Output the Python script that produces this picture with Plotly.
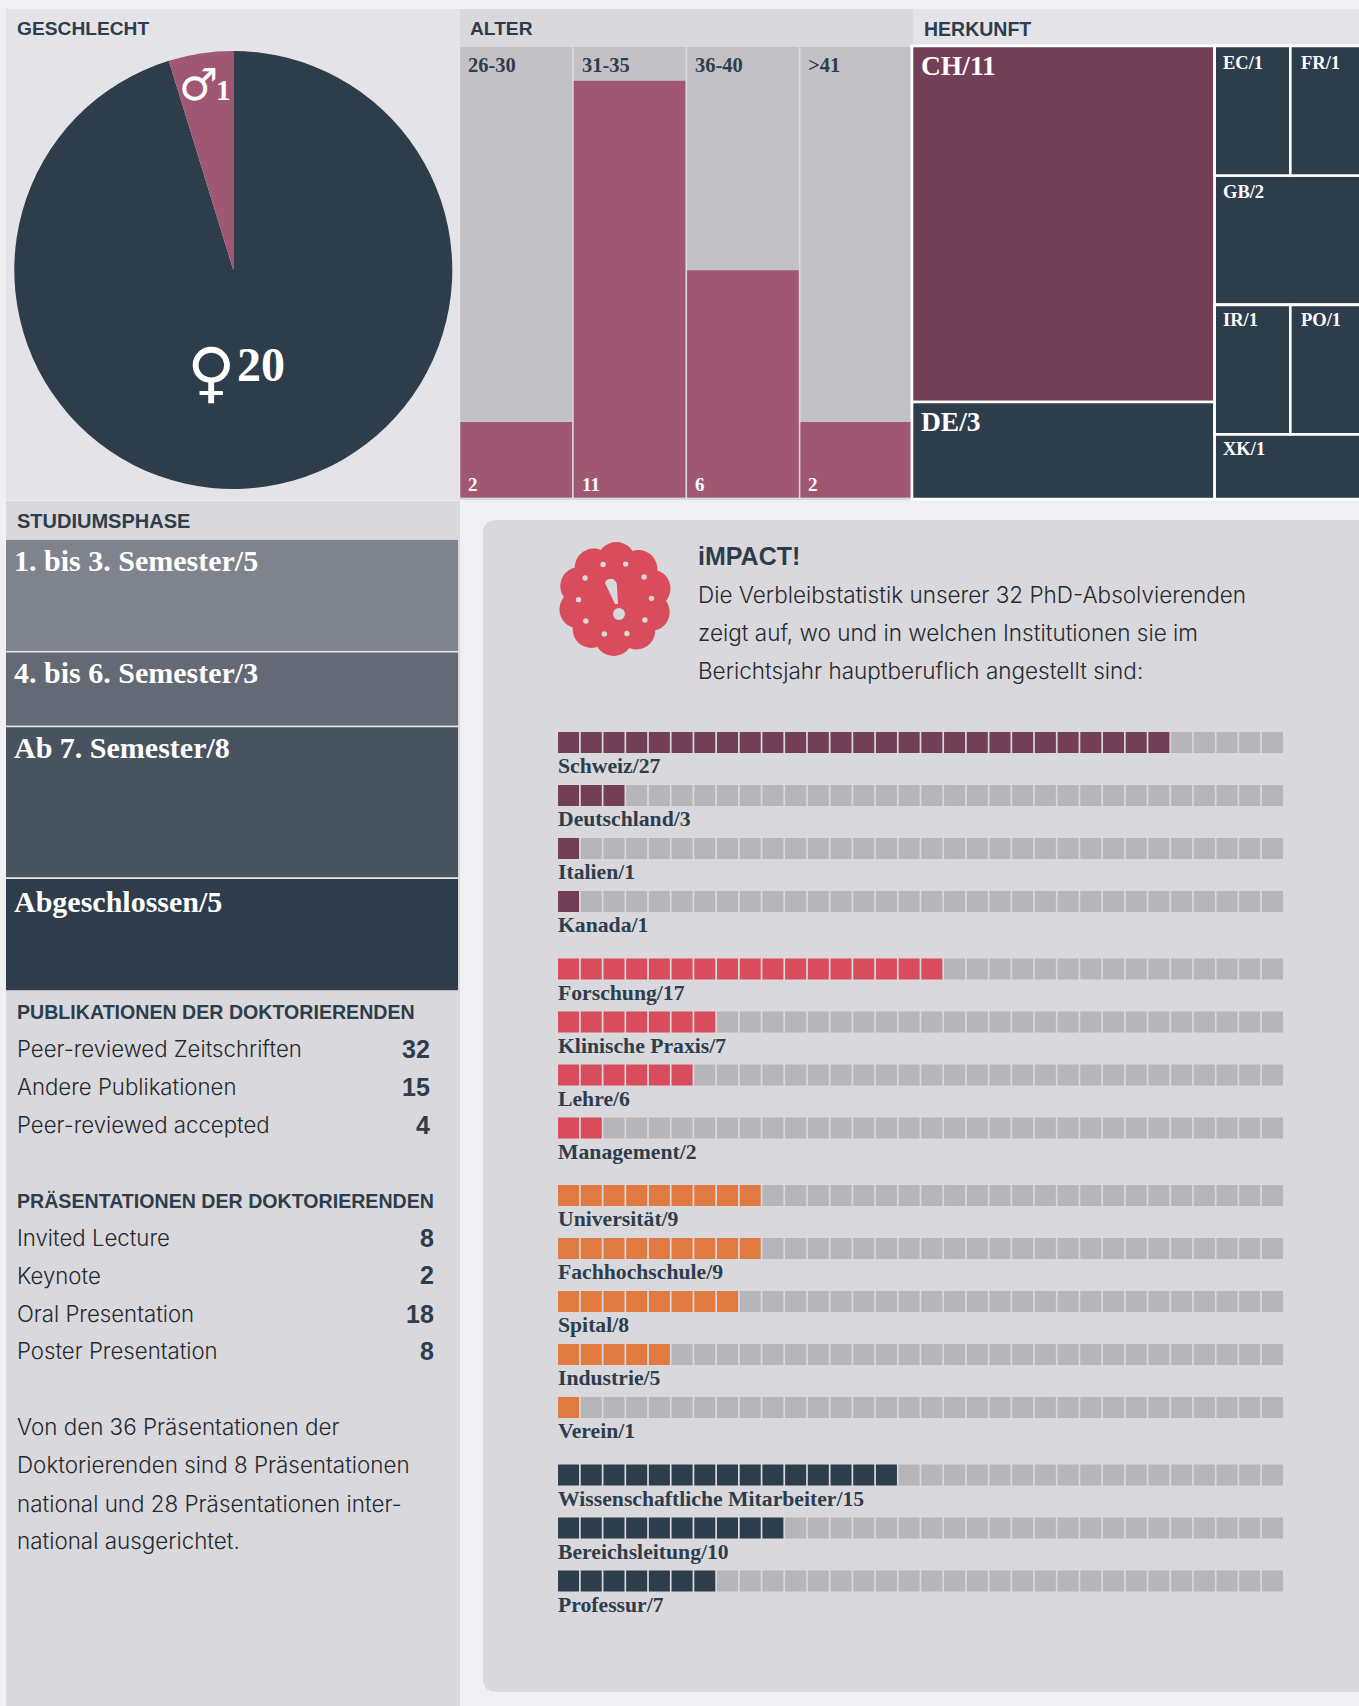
import math
import plotly.graph_objects as go

# the Herkunft block runs a few pixels past the 1359 wide window in the original
W, H = 1366, 1706

# --- data ---
gender_labels = ["weiblich", "männlich"]
gender_values = [20, 1]

age_labels = ["26-30", "31-35", "36-40", ">41"]
age_values = [2, 11, 6, 2]
age_scale_max = 11.9

origin_ids = ["L", "CH", "DE", "R", "R1", "EC", "FR", "GB", "R3", "IR", "PO", "XK"]
origin_parents = ["", "L", "L", "", "R", "R1", "R1", "R", "R", "R3", "R3", "R"]
origin_values = [14, 11, 3, 7, 2, 1, 1, 2, 2, 1, 1, 1]

phase_labels = ["1. bis 3. Semester/5", "4. bis 6. Semester/3", "Ab 7. Semester/8", "Abgeschlossen/5"]
# drawn heights in the original do not follow the printed numbers
phase_sizes = [5.2, 3.45, 7.0, 5.2]
phase_colors = ["#7f838e", "#636975", "#47535f", "#2e3c4b"]

pub_labels = ["Peer-reviewed Zeitschriften", "Andere Publikationen", "Peer-reviewed accepted"]
pub_values = [32, 15, 4]
pres_labels = ["Invited Lecture", "Keynote", "Oral Presentation", "Poster Presentation"]
pres_values = [8, 2, 18, 8]

impact_total = 32
place_labels = ["Schweiz", "Deutschland", "Italien", "Kanada"]
place_values = [27, 3, 1, 1]
sector_labels = ["Forschung", "Klinische Praxis", "Lehre", "Management"]
sector_values = [17, 7, 6, 2]
inst_labels = ["Universität", "Fachhochschule", "Spital", "Industrie", "Verein"]
inst_values = [9, 9, 8, 5, 1]
role_labels = ["Wissenschaftliche Mitarbeiter", "Bereichsleitung", "Professur"]
role_values = [15, 10, 7]

DARK = "#2e3d4b"
PINK = "#a05772"
WINE = "#733f56"
RED = "#d94c5b"
ORANGE = "#e07a40"
EMPTY = "#b5b5ba"
PANEL = "#d9d8dd"
PANEL_LIGHT = "#e4e3e8"
PAGE = "#f0f0f2"
GREY = "#c2c1c6"

SANS = "Inter"
HEAD = "Liberation Sans"
SERIF = "Liberation Serif"
TEXT = "#26292d"


def px(x):
    return x / W


def py(y):
    return 1 - y / H


def dom_x(a, b):
    return [px(a), px(b)]


def dom_y(a, b):
    return [py(b), py(a)]


shapes = []
annotations = []


def panel(x0, y0, x1, y1, color):
    shapes.append(dict(type="rect", xref="paper", yref="paper", layer="below",
                       x0=px(x0), x1=px(x1), y0=py(y0), y1=py(y1),
                       fillcolor=color, line_width=0))


def disc(x, y, r, color):
    shapes.append(dict(type="circle", xref="paper", yref="paper", fillcolor=color, line_width=0,
                       x0=px(x - r), x1=px(x + r), y0=py(y + r), y1=py(y - r)))


def label(x, y, text, size, font=SANS, color=TEXT, bold=False, weight=None, anchor="left"):
    # annotations keep a small inner padding, so the anchor is nudged by it
    x = x - 1.5 if anchor == "left" else x + 1.5 if anchor == "right" else x
    annotations.append(dict(xref="paper", yref="paper", x=px(x), y=py(y), text=text,
                            showarrow=False, xanchor=anchor, yanchor="middle", borderpad=0,
                            font=dict(family=font, size=size, color=color,
                                      weight=weight or (700 if bold else 400))))


def data_label(xref, yref, x, y, text, size, xshift, yshift, color):
    annotations.append(dict(xref=xref, yref=yref, x=x, y=y, text=text, showarrow=False,
                            xanchor="left", yanchor="middle", xshift=xshift, yshift=yshift,
                            font=dict(family=SERIF, size=size, color=color, weight=700)))


# --- panels ---
panel(6, 9, 460, 500, PANEL_LIGHT)
panel(460, 9, 913, 500, PANEL)
panel(913, 9, W, 500, PANEL_LIGHT)
panel(6, 501, 460, H, PANEL)

# rounded iMPACT box, runs off the right edge
r = 14
x0, y0, x1, y1 = px(483), py(520), px(W + 20), py(1692)
rx, ry = r / W, r / H
shapes.append(dict(type="path", xref="paper", yref="paper", layer="below", fillcolor=PANEL, line_width=0,
                   path=f"M {x0+rx} {y0} L {x1} {y0} L {x1} {y1} L {x0+rx} {y1} "
                        f"Q {x0} {y1} {x0} {y1+ry} L {x0} {y0-ry} Q {x0} {y0} {x0+rx} {y0} Z"))

fig = go.Figure()

# --- Geschlecht ---
fig.add_trace(go.Pie(labels=gender_labels, values=gender_values, sort=False,
                     direction="clockwise", rotation=0, textinfo="none",
                     marker=dict(colors=[DARK, PINK], line=dict(width=0)),
                     domain=dict(x=dom_x(14.3, 452.3), y=dom_y(51, 489)), showlegend=False))
label(198, 85, "♂", 44, font="DejaVu Sans", color="white", anchor="center")
label(223, 90, str(gender_values[1]), 29, font=SERIF, color="white", bold=True, anchor="center")
label(211, 372, "♀", 66, font="DejaVu Sans", color="white", anchor="center")
label(237, 364, str(gender_values[0]), 48, font=SERIF, color="white", bold=True)

# --- Alter ---
fig.add_trace(go.Bar(x=age_labels, y=[age_scale_max] * len(age_labels), width=0.985,
                     marker=dict(color=GREY, line_width=0), xaxis="x", yaxis="y", showlegend=False))
fig.add_trace(go.Bar(x=age_labels, y=age_values, width=0.985,
                     marker=dict(color=PINK, line_width=0), xaxis="x", yaxis="y", showlegend=False))
for name, val in zip(age_labels, age_values):
    data_label("x", "y", name, age_scale_max, name, 20.5, -50, -18, DARK)
    data_label("x", "y", name, 0, str(val), 19, -50, 13, "white")

# --- Herkunft: nested slice/dice treemap ---
origin_colors = [DARK, WINE, DARK, DARK, DARK, DARK, DARK, DARK, DARK, DARK, DARK, DARK]
fig.add_trace(go.Treemap(ids=origin_ids, labels=origin_ids, parents=origin_parents, values=origin_values,
                         branchvalues="total", sort=False, textinfo="none", root_color="rgba(0,0,0,0)",
                         tiling=dict(packing="slice-dice", pad=0),
                         pathbar_visible=False,
                         marker=dict(colors=origin_colors, pad=dict(t=0, l=0, r=0, b=0),
                                     line=dict(color="white", width=2.6)),
                         domain=dict(x=dom_x(912, W), y=dom_y(46, 499))))
label(921, 66, "CH/11", 27.5, font=SERIF, color="white", bold=True)
label(921, 422, "DE/3", 27.5, font=SERIF, color="white", bold=True)
for x, y, t in [(1223, 63, "EC/1"), (1301, 63, "FR/1"), (1223, 192, "GB/2"),
                (1223, 320, "IR/1"), (1301, 320, "PO/1"), (1223, 449, "XK/1")]:
    label(x, y, t, 18.5, font=SERIF, color="white", bold=True)

# --- Studiumsphase: one stacked column ---
cum = 0
for i, (name, size, color) in enumerate(zip(phase_labels, phase_sizes, phase_colors)):
    fig.add_trace(go.Bar(x=[0], y=[size], base=[cum], width=1.02, name=name, xaxis="x2", yaxis="y2",
                         showlegend=False, marker=dict(color=color, line=dict(color="#e8e8ea", width=1.4))))
    data_label("x2", "y2", -0.5, cum, name, 30, 6, -21 if i < 3 else -23, "white")
    cum += size
phase_total = cum

# --- iMPACT squares ---
groups = [(place_labels, place_values, WINE), (sector_labels, sector_values, RED),
          (inst_labels, inst_values, ORANGE), (role_labels, role_values, DARK)]
group_gap = 14.5 / 53
row = 0
for g, (names, values, color) in enumerate(groups):
    for name, val in zip(names, values):
        y = row + g * group_gap
        cols = list(range(1, impact_total + 1))
        fig.add_trace(go.Scatter(x=cols, y=[y] * impact_total, mode="markers", xaxis="x3", yaxis="y3",
                                 showlegend=False, hoverinfo="skip",
                                 marker=dict(symbol="square", size=21, line_width=0,
                                             color=[color if c <= val else EMPTY for c in cols])))
        data_label("x3", "y3", 0.5, y, f"{name}/{val}", 21.7, -1, -23.5, DARK)
        row += 1
last_y = row - 1 + 3 * group_gap

# --- badge ---
cx, cy = 615, 599
lobes = 10
disc(cx, cy, 42, RED)
for i in range(lobes):
    a = math.radians(2 + 36 * i)
    disc(cx + 38 * math.sin(a), cy - 38 * math.cos(a), 19, RED)
for i in range(lobes):
    a = math.radians(-19 + 36 * i)
    disc(cx + 36.5 * math.sin(a), cy - 36.5 * math.cos(a), 2.7, PANEL)
shapes.append(dict(type="path", xref="paper", yref="paper", fillcolor=PANEL, line_width=0,
                   path=f"M {px(605)} {py(583)} Q {px(607)} {py(578)} {px(613)} {py(579)} "
                        f"Q {px(617)} {py(581)} {px(617)} {py(586)} L {px(618)} {py(604)} L {px(615)} {py(604)} Z"))
disc(619, 614, 6, PANEL)

# --- texts ---
label(17, 29, "GESCHLECHT", 19.2, font=HEAD, color=DARK, bold=True)
label(470, 29, "ALTER", 19.2, font=HEAD, color=DARK, bold=True)
label(924, 29, "HERKUNFT", 19.5, font=HEAD, color=DARK, bold=True)
label(17, 521, "STUDIUMSPHASE", 20, font=HEAD, color=DARK, bold=True)

label(17, 1012, "PUBLIKATIONEN DER DOKTORIERENDEN", 19.6, font=HEAD, color=DARK, bold=True)
for y, name, val in zip([1048.5, 1086.5, 1124.5], pub_labels, pub_values):
    label(17, y, name, 22.2, weight=300)
    label(430, y, str(val), 25, font=HEAD, color=DARK, bold=True, anchor="right")
label(17, 1201, "PRÄSENTATIONEN DER DOKTORIERENDEN", 19.6, font=HEAD, color=DARK, bold=True)
for y, name, val in zip([1237.5, 1275, 1313.5, 1350.5], pres_labels, pres_values):
    label(17, y, name, 22.2, weight=300)
    label(433, y, str(val), 25, font=HEAD, color=DARK, bold=True, anchor="right")
para = ["Von den 36 Präsentationen der", "Doktorierenden sind 8 Präsentationen",
        "national und 28 Präsentationen inter-", "national ausgerichtet."]
for y, t in zip([1426.5, 1464.5, 1503, 1540.5], para):
    label(17, y, t, 22.4, weight=300)

label(698, 556.5, "iMPACT!", 25, font=HEAD, color=DARK, bold=True)
intro = ["Die Verbleibstatistik unserer 32 PhD-Absolvierenden",
         "zeigt auf, wo und in welchen Institutionen sie im",
         "Berichtsjahr hauptberuflich angestellt sind:"]
for y, t in zip([595, 633, 670.5], intro):
    label(698, y, t, 22.5, weight=300)

hidden = dict(visible=False, fixedrange=True)
fig.update_layout(
    width=W, height=H, margin=dict(l=0, r=0, t=0, b=0, autoexpand=False),
    paper_bgcolor=PAGE, plot_bgcolor="rgba(0,0,0,0)", barmode="overlay",
    showlegend=False, shapes=shapes, annotations=annotations,
    xaxis=dict(hidden, domain=dom_x(459.5, 913), range=[-0.5, 3.5], type="category", categoryorder="array", categoryarray=age_labels),
    yaxis=dict(hidden, domain=dom_y(46.7, 497.7), range=[0, age_scale_max]),
    xaxis2=dict(hidden, domain=dom_x(6, 458), range=[-0.5, 0.5]),
    yaxis2=dict(hidden, domain=dom_y(539, 991), range=[phase_total, 0]),
    xaxis3=dict(hidden, domain=dom_x(557.2, 1283.8), range=[0.5, impact_total + 0.5]),
    yaxis3=dict(hidden, domain=dom_y(742.5 - 26.5, 742.5 + (last_y + 0.5) * 53), range=[last_y + 0.5, -0.5]),
)

fig.write_html("out.html", config=dict(displayModeBar=False),
               post_script="document.body.style.margin='0';document.body.style.overflow='hidden';")
